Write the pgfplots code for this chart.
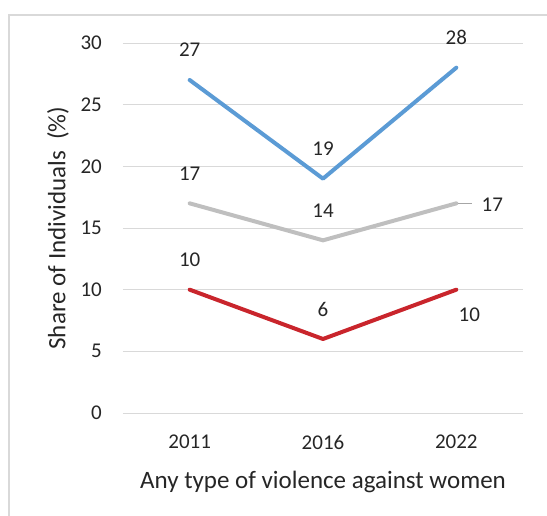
\documentclass[border=0pt]{standalone}
\usepackage{pgfplots}
\pgfplotsset{compat=1.18}
\usepackage{fontspec}
\setmainfont{Carlito}
\definecolor{cblue}{HTML}{5B9BD5}
\definecolor{cgray}{HTML}{BFBFBF}
\definecolor{cred}{HTML}{C9252C}
\definecolor{cgrid}{HTML}{D9D9D9}
\definecolor{ctext}{HTML}{262626}
\newcommand{\tickfont}{\fontsize{21bp}{25bp}\selectfont}
\newcommand{\titlefont}{\fontsize{25bp}{30bp}\selectfont}
\begin{document}
\begin{tikzpicture}
\begin{axis}[
  name=a,
  scale only axis,
  width=400bp, height=370bp,
  xmin=-0.5, xmax=2.5,
  ymin=0, ymax=30,
  xtick={0,1,2}, xticklabels={2011,2016,2022},
  ytick={0,5,10,15,20,25,30},
  /pgf/number format/assume math mode=true,
  axis line style={draw=none},
  major tick length=0pt,
  ymajorgrids,
  grid style={cgrid, line width=1bp},
  tick label style={font=\tickfont, text=ctext},
  yticklabel style={anchor=east, inner sep=0pt, xshift=-21bp},
  xticklabel style={anchor=north, inner sep=0pt, yshift=-22bp},
  xlabel={Any type of violence against women},
  ylabel={Share of Individuals\ \ (\%)},
  label style={font=\titlefont, text=ctext},
  xlabel style={at={(axis description cs:0.5,-0.1865)}, anchor=center},
  ylabel style={at={(axis description cs:-0.1625,0.5)}, anchor=center},
  clip=false,
  every node near coord/.append style={font=\tickfont, text=ctext, anchor=center, inner sep=0pt},
]
\addplot[cblue, line width=4bp, line join=round, line cap=round] coordinates {(0,27) (1,19) (2,28)};
\addplot[cgray, line width=4bp, line join=round, line cap=round] coordinates {(0,17) (1,14) (2,17)};
\addplot[cred, line width=4bp, line join=round, line cap=round] coordinates {(0,10) (1,6) (2,10)};
% data labels
\addplot[draw=none, forget plot, nodes near coords, every node near coord/.append style={yshift=30bp}] coordinates {(0,27) (1,19) (2,28)};
\addplot[draw=none, forget plot, nodes near coords, every node near coord/.append style={yshift=30bp}] coordinates {(0,17) (1,14)};
\addplot[draw=none, forget plot, nodes near coords, every node near coord/.append style={xshift=36bp, yshift=-1bp}] coordinates {(2,17)};
\addplot[draw=none, forget plot, nodes near coords, every node near coord/.append style={yshift=30bp}] coordinates {(0,10) (1,6)};
\addplot[draw=none, forget plot, nodes near coords, every node near coord/.append style={xshift=13bp, yshift=-25bp}] coordinates {(2,10)};
\draw[color=black!35, line width=1bp] (axis cs:2.015,17) -- (axis cs:2.12,17);
\end{axis}
\draw[cgrid, line width=1.2bp] (a.south west) ++(-114bp,-103bp) -- ++(0,501bp) -- ++(547bp,0);
\pgfresetboundingbox
\path[use as bounding box] (a.south west) ++(-123bp,-103bp) rectangle ++(547bp,516bp);
\end{tikzpicture}
\end{document}
